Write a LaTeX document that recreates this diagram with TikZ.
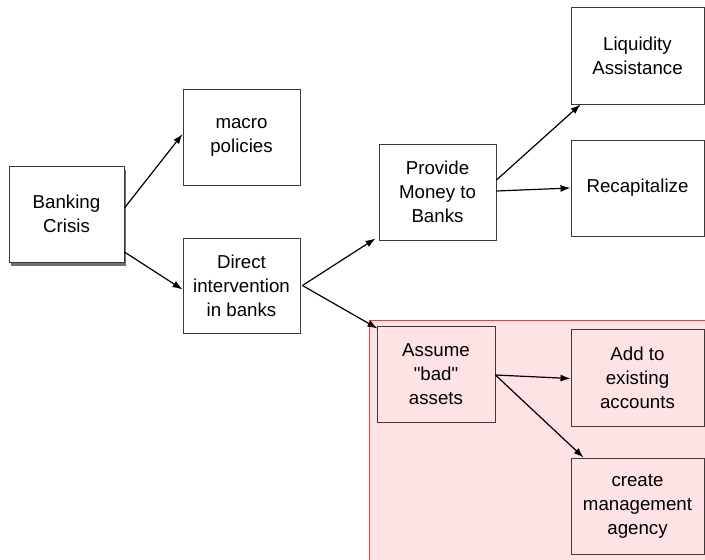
\documentclass[tikz,border=0pt]{standalone}
\usepackage{fontspec}
\setmainfont{Liberation Sans}
\usetikzlibrary{arrows.meta,shadows}
\definecolor{pinkfill}{HTML}{FDE3E3}
\definecolor{regionred}{HTML}{F03A3A}
\definecolor{boxline}{HTML}{3A3A3A}
\tikzset{
  box/.style={draw=boxline, line width=0.9pt, fill=white, align=center,
    inner sep=0pt, font=\fontsize{18.7}{24}\selectfont},
  pinkbox/.style={box, fill=pinkfill},
  conn/.style={draw=black, line width=1.2pt, -{Latex[length=10pt,width=7pt]}}
}
\begin{document}
\begin{tikzpicture}[x=1pt,y=-1pt]
\useasboundingbox (0,0) rectangle (705,560);
\fill[white] (0,0) rectangle (705,560);
% highlighted region
\draw[draw=regionred, fill=pinkfill, line width=1pt] (369,320) rectangle (712,566);

\node[box, minimum width=115pt, minimum height=96pt,
  drop shadow={shadow xshift=1.5pt, shadow yshift=-3.5pt, opacity=0.7, fill=black!80}]
  (bc) at (66.5,214) {Banking\\Crisis};
\node[box, minimum width=117pt, minimum height=96pt] (mp) at (241.5,137) {macro\\policies};
\node[box, minimum width=117pt, minimum height=95pt] (di) at (241.5,285.5) {Direct\\intervention\\in banks};
\node[box, minimum width=117pt, minimum height=96pt] (pm) at (437.5,192) {Provide\\Money to\\Banks};
\node[box, minimum width=133pt, minimum height=97pt] (la) at (637.5,55.5) {Liquidity\\Assistance};
\node[box, minimum width=133pt, minimum height=96pt] (rc) at (637.5,188) {Recapitalize};
\node[pinkbox, minimum width=118pt, minimum height=96pt] (ab) at (436,374) {Assume\\\textquotedbl bad\textquotedbl\\assets};
\node[pinkbox, minimum width=133pt, minimum height=97pt] (ad) at (637.5,377.5) {Add to\\existing\\accounts};
\node[pinkbox, minimum width=133pt, minimum height=96pt] (cm) at (637.5,506) {create\\management\\agency};

\draw[conn] ([yshift=6pt]bc.east) -- ([yshift=3pt]mp.west);
\draw[conn] ([yshift=-38pt]bc.east) -- ([yshift=-4pt]di.west);
\draw[conn] ([xshift=2pt]di.east) -- ([xshift=-3pt,yshift=2pt]pm.south west);
\draw[conn] ([xshift=2pt]di.east) -- ([xshift=1pt,yshift=-3pt]ab.north west);
\draw[conn] ([yshift=12pt]pm.east) -- ([xshift=10pt]la.south west);
\draw[conn] ([yshift=1pt]pm.east) -- (rc.west);
\draw[conn] ([yshift=-1pt]ab.east) -- ([yshift=-1pt]ad.west);
\draw[conn] ([yshift=-1pt]ab.east) -- ([xshift=13pt]cm.north west);
\end{tikzpicture}
\end{document}
